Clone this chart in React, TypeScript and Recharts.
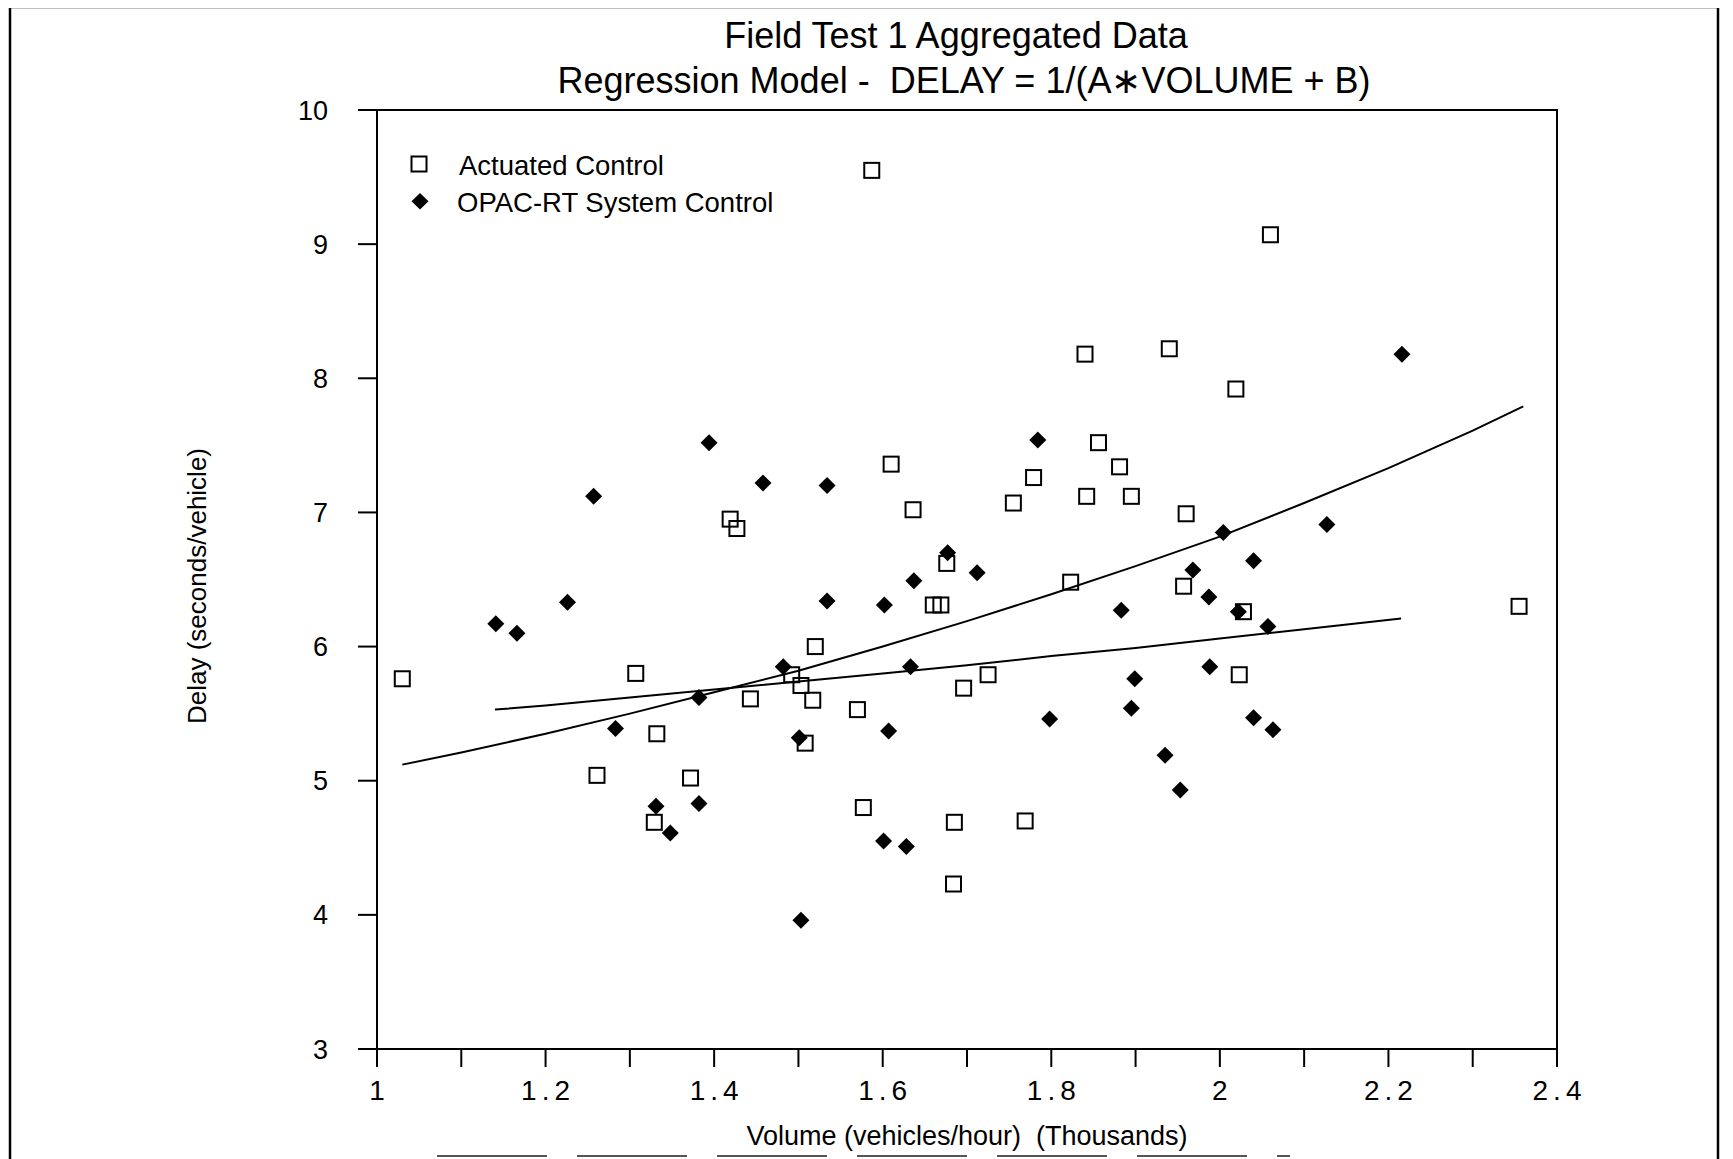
import React from 'react';
import { ScatterChart, Scatter, XAxis, YAxis, Legend, ReferenceArea } from 'recharts';

const FONT = '"Liberation Sans", Arial, Helvetica, sans-serif';

// ---- data ----
const actuatedVolume = [1.030, 1.261, 1.307, 1.329, 1.332, 1.372, 1.419, 1.427, 1.443, 1.492, 1.503, 1.508, 1.517, 1.520, 1.570, 1.577, 1.587, 1.610, 1.636, 1.660, 1.669, 1.676, 1.684, 1.685, 1.696, 1.725, 1.755, 1.769, 1.779, 1.823, 1.840, 1.842, 1.856, 1.881, 1.895, 1.940, 1.957, 1.960, 2.019, 2.023, 2.028, 2.060, 2.355];
const actuatedDelay = [5.76, 5.04, 5.80, 4.69, 5.35, 5.02, 6.95, 6.88, 5.61, 5.79, 5.71, 5.28, 5.60, 6.00, 5.53, 4.80, 9.55, 7.36, 7.02, 6.31, 6.31, 6.62, 4.23, 4.69, 5.69, 5.79, 7.07, 4.70, 7.26, 6.48, 8.18, 7.12, 7.52, 7.34, 7.12, 8.22, 6.45, 6.99, 7.92, 5.79, 6.26, 9.07, 6.30];

const opacVolume = [1.141, 1.166, 1.226, 1.257, 1.283, 1.331, 1.348, 1.382, 1.382, 1.394, 1.458, 1.482, 1.501, 1.503, 1.534, 1.534, 1.601, 1.602, 1.607, 1.628, 1.633, 1.637, 1.677, 1.712, 1.784, 1.798, 1.883, 1.895, 1.899, 1.935, 1.953, 1.968, 1.987, 1.988, 2.004, 2.022, 2.040, 2.040, 2.057, 2.063, 2.127, 2.216];
const opacDelay = [6.17, 6.10, 6.33, 7.12, 5.39, 4.81, 4.61, 5.62, 4.83, 7.52, 7.22, 5.85, 5.32, 3.96, 7.20, 6.34, 4.55, 6.31, 5.37, 4.51, 5.85, 6.49, 6.70, 6.55, 7.54, 5.46, 6.27, 5.54, 5.76, 5.19, 4.93, 6.57, 6.37, 5.85, 6.85, 6.26, 6.64, 5.47, 6.15, 5.38, 6.91, 8.18];

// regression curves DELAY = 1/(A*VOLUME + B)
const actFitVolume = [1.03, 1.1, 1.2, 1.3, 1.4, 1.5, 1.6, 1.7, 1.8, 1.9, 2.0, 2.1, 2.2, 2.3, 2.36];
const actFitDelay = [5.12, 5.21, 5.35, 5.50, 5.66, 5.82, 6.00, 6.19, 6.39, 6.60, 6.82, 7.07, 7.33, 7.61, 7.79];
const opacFitVolume = [1.14, 1.2, 1.3, 1.4, 1.5, 1.6, 1.7, 1.8, 1.9, 2.0, 2.1, 2.215];
const opacFitDelay = [5.53, 5.56, 5.62, 5.68, 5.74, 5.80, 5.86, 5.93, 5.99, 6.06, 6.13, 6.21];

const xTicks = [1, 1.1, 1.2, 1.3, 1.4, 1.5, 1.6, 1.7, 1.8, 1.9, 2, 2.1, 2.2, 2.3, 2.4];
const xTickLabels = ['1', '', '1.2', '', '1.4', '', '1.6', '', '1.8', '', '2', '', '2.2', '', '2.4'];
const yTicks = [3, 4, 5, 6, 7, 8, 9, 10];

const seriesNames = ['Actuated Control', 'OPAC-RT System Control'];
const titleLines = ['Field Test 1 Aggregated Data', 'Regression Model -  DELAY = 1/(A\u2217VOLUME + B)'];
const xAxisTitle = 'Volume (vehicles/hour)  (Thousands)';
const yAxisTitle = 'Delay (seconds/vehicle)';

const zip = (xs: number[], ys: number[]) => xs.map((x, i) => ({ x, y: ys[i] }));
const actuated = zip(actuatedVolume, actuatedDelay);
const opac = zip(opacVolume, opacDelay);
const actFit = zip(actFitVolume, actFitDelay);
const opacFit = zip(opacFitVolume, opacFitDelay);

const SquareShape = (p: any) => (
  <rect x={p.cx - 7.5} y={p.cy - 7.5} width={15} height={15} fill="none" stroke="#000" strokeWidth={2} />
);
const DiamondShape = (p: any) => (
  <path d={`M${p.cx},${p.cy - 8.5} L${p.cx + 8.5},${p.cy} L${p.cx},${p.cy + 8.5} L${p.cx - 8.5},${p.cy} Z`} fill="#000" />
);
const EmptyShape = () => <g />;

const XTick = (props: any) => {
  const { x, y, payload } = props;
  const idx = xTicks.indexOf(payload.value);
  const label = idx >= 0 ? xTickLabels[idx] : '';
  return (
    <text x={x + 2.5} y={y} dy="0.71em" textAnchor="middle" fontSize={28} letterSpacing={5} fill="#000" fontFamily={FONT}>
      {label}
    </text>
  );
};

const LegendContent = (props: any) => {
  const payload = (props.payload || []).filter((p: any) => p.type !== 'none');
  const names = payload.length === 2 ? payload.map((p: any) => p.value) : seriesNames;
  return (
    <svg width={420} height={80} style={{ overflow: 'visible' }}>
      <rect x={8.5} y={8.5} width={15} height={15} fill="none" stroke="#000" strokeWidth={2} />
      <text x={56} y={27} fontSize={27.5} fontFamily={FONT} fill="#000">{names[0]}</text>
      <path d="M17,45 L25.5,53.3 L17,61.6 L8.5,53.3 Z" fill="#000" />
      <text x={54} y={64} fontSize={27.5} fontFamily={FONT} fill="#000">{names[1]}</text>
    </svg>
  );
};

export default function App() {
  return (
    <div style={{ position: 'relative', width: 1717, height: 1151, fontFamily: FONT, background: '#fff' }}>
      <ScatterChart width={1717} height={1151} margin={{ top: 102, right: 168, bottom: 10, left: 249 }}>
        <XAxis
          type="number"
          dataKey="x"
          domain={[1, 2.4]}
          ticks={xTicks}
          interval={0}
          height={100}
          tickSize={18}
          tickMargin={13}
          tick={<XTick />}
          axisLine={{ stroke: '#000', strokeWidth: 2 }}
          tickLine={{ stroke: '#000', strokeWidth: 2 }}
          allowDataOverflow
        />
        <YAxis
          type="number"
          dataKey="y"
          domain={[3, 10]}
          ticks={yTicks}
          interval={0}
          width={120}
          tickSize={19}
          tickMargin={30}
          tick={{ fontSize: 27, fill: '#000', fontFamily: FONT }}
          axisLine={{ stroke: '#000', strokeWidth: 2 }}
          tickLine={{ stroke: '#000', strokeWidth: 2 }}
          allowDataOverflow
        />
        <ReferenceArea x1={1} x2={2.4} y1={3} y2={10} fill="none" fillOpacity={0} stroke="#000" strokeWidth={2} />
        <Legend
          layout="horizontal"
          verticalAlign="middle"
          align="center"
          content={<LegendContent />}
          wrapperStyle={{ top: 140, left: 395, width: 420, height: 80 }}
        />
        <Scatter name="fitA" data={actFit} line={{ stroke: '#000', strokeWidth: 2 }} shape={EmptyShape} legendType="none" isAnimationActive={false} />
        <Scatter name="fitB" data={opacFit} line={{ stroke: '#000', strokeWidth: 2 }} shape={EmptyShape} legendType="none" isAnimationActive={false} />
        <Scatter name={seriesNames[0]} data={actuated} shape={SquareShape} legendType="square" isAnimationActive={false} />
        <Scatter name={seriesNames[1]} data={opac} shape={DiamondShape} legendType="diamond" isAnimationActive={false} />
      </ScatterChart>
      <svg
        width={1733}
        height={1159}
        style={{ position: 'absolute', left: -8, top: -8, pointerEvents: 'none', overflow: 'visible' }}
      >
        <path d="M10,1159 L10,7 L1718,7 L1718,1159" fill="none" stroke="#000" strokeWidth={2.5} />
        <line x1={437} y1={1156} x2={1290} y2={1156} stroke="#555" strokeWidth={2} strokeDasharray="110 30" />
        <text x={956} y={47.5} textAnchor="middle" fontSize={36} fontFamily={FONT} fill="#000">{titleLines[0]}</text>
        <text x={964} y={93} textAnchor="middle" fontSize={36} fontFamily={FONT} fill="#000" style={{ whiteSpace: 'pre' }}>{titleLines[1]}</text>
        <text x={967} y={1145} textAnchor="middle" fontSize={27} fontFamily={FONT} fill="#000" style={{ whiteSpace: 'pre' }}>{xAxisTitle}</text>
        <text transform="translate(206,586) rotate(-90)" x={0} y={0} textAnchor="middle" fontSize={26} fontFamily={FONT} fill="#000">{yAxisTitle}</text>
      </svg>
    </div>
  );
}
